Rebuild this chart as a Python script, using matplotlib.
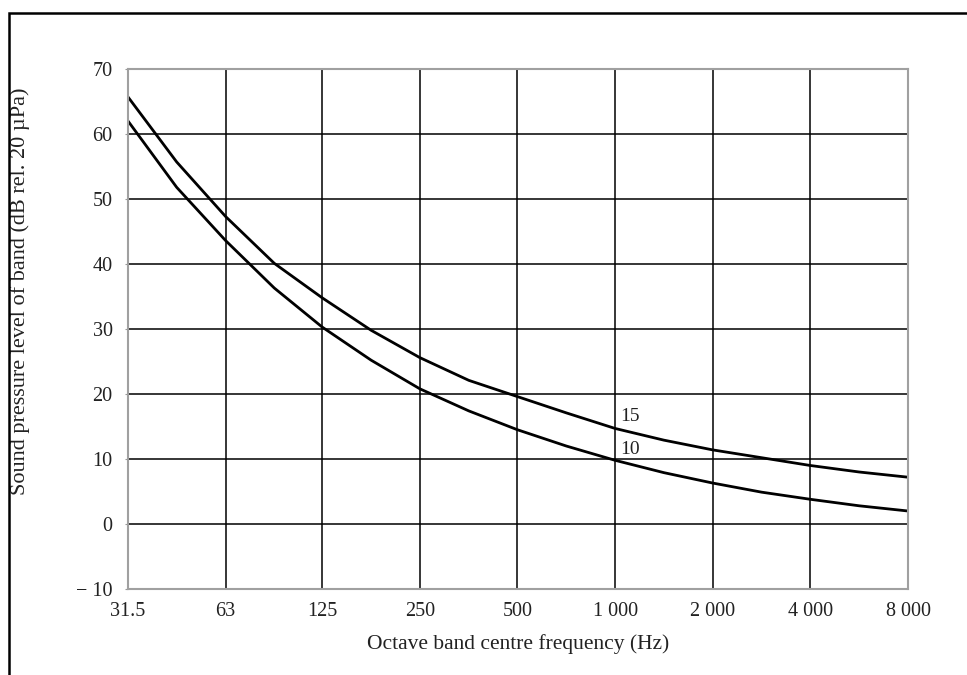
import matplotlib
matplotlib.use("Agg")
import matplotlib.pyplot as plt
from matplotlib.patches import Rectangle
import numpy as np

matplotlib.rcParams.update({'font.family': ['Liberation Serif', 'DejaVu Serif'],
                            'font.size': 14})

# octave band centres (tick labels) and the half-octave points read in between
band_freqs = [31.5, 63, 125, 250, 500, 1000, 2000, 4000, 8000]
band_labels = ['31.5', '63', '125', '250', '500', '1 000', '2 000', '4 000', '8 000']

freq = [31.5, 44.5, 63, 89, 125, 177, 250, 354, 500, 707,
        1000, 1414, 2000, 2828, 4000, 5657, 8000]

# curve "15"
spl_15 = [65.7, 55.7, 47.3, 40.1, 34.8, 29.8, 25.6, 22.1, 19.6, 17.1,
          14.7, 12.9, 11.4, 10.2, 9.0, 8.0, 7.2]
# curve "10"
spl_10 = [62.0, 51.8, 43.6, 36.3, 30.3, 25.2, 20.8, 17.4, 14.5, 12.0,
          9.8, 7.9, 6.3, 4.9, 3.8, 2.8, 2.0]

y_ticks = [-10, 0, 10, 20, 30, 40, 50, 60, 70]
y_labels = ['\u2212 10', '0', '10', '20', '30', '40', '50', '60', '70']

fig = plt.figure(figsize=(9.67, 6.75), dpi=100)
ax = fig.add_axes([128/967, 86/675, 780/967, 520/675])

ax.set_xscale('log', base=2)
ax.set_xlim(31.5, 8000)
ax.set_ylim(-10, 70)

ax.plot(freq, spl_15, color='black', lw=2.0, zorder=3)
ax.plot(freq, spl_10, color='black', lw=2.0, zorder=3)

ax.annotate('15', xy=(1000, 16.6), xytext=(4, 0), textcoords='offset points',
            va='center', ha='left', color='#222222')
ax.annotate('10', xy=(1000, 11.4), xytext=(4, 0), textcoords='offset points',
            va='center', ha='left', color='#222222')

ax.set_xticks(band_freqs)
ax.set_xticklabels(band_labels)
ax.xaxis.set_minor_locator(matplotlib.ticker.NullLocator())
ax.set_yticks(y_ticks)
ax.set_yticklabels(y_labels)

ax.grid(True, color='black', lw=1.1)
ax.tick_params(axis='x', length=0, pad=9, colors='#222222', labelsize=14.5)
ax.tick_params(axis='y', length=2, pad=9, colors='#222222', color='#999999', labelsize=14.5)

for s in ax.spines.values():
    s.set_color('#a0a0a0')
    s.set_linewidth(1.5)
    s.set_zorder(4)

ax.set_xlabel('Octave band centre frequency (Hz)', color='#222222', labelpad=10, fontsize=15.5)
ax.set_ylabel('Sound pressure level of band (dB rel. 20 \u00b5Pa)', color='#222222', fontsize=16)
ax.yaxis.set_label_coords(-0.125, 0.573)

# outer frame (left and top edges visible)
fig.add_artist(Rectangle((9/967, -0.1), 1.2, 1.1 - 13/675, transform=fig.transFigure,
                         fill=False, edgecolor='black', lw=1.8))

plt.savefig("out.png", dpi=100)
